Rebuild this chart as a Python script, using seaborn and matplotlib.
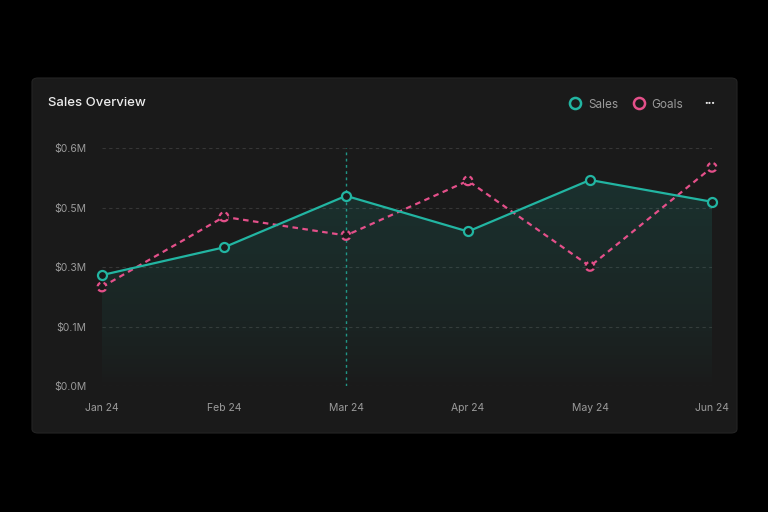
import numpy as np
import pandas as pd
import matplotlib
matplotlib.use("Agg")
import matplotlib.pyplot as plt
import seaborn as sns
from matplotlib.patches import FancyBboxPatch
from matplotlib.lines import Line2D

months = ["Jan 24", "Feb 24", "Mar 24", "Apr 24", "May 24", "Jun 24"]
sales = [0.280, 0.350, 0.480, 0.390, 0.520, 0.465]   # $M
goals = [0.250, 0.427, 0.380, 0.518, 0.302, 0.552]   # $M
y_ticks = [0.0, 0.15, 0.3, 0.45, 0.6]
hover_month = "Mar 24"

TEAL = "#22b5a2"
PINK = "#e4508a"
CARD = "#1a1a1a"

sns.set_theme(style="dark")
plt.rcParams["font.family"] = ["Inter", "DejaVu Sans"]

df = pd.DataFrame({"month": months, "x": range(len(months)), "Sales": sales, "Goals": goals})

fig = plt.figure(figsize=(7.68, 5.12), dpi=100)
fig.patch.set_facecolor("black")

# card background
card = FancyBboxPatch((32 / 768, 1 - 433 / 512), 705 / 768, 355 / 512,
                      boxstyle="round,pad=0,rounding_size=0.008",
                      transform=fig.transFigure, facecolor=CARD,
                      edgecolor="#242424", linewidth=0.8, zorder=-5)
fig.patches.append(card)

ax = fig.add_axes([102 / 768, 1 - 386 / 512, 610 / 768, 237.7 / 512])
ax.set_zorder(1)
ax.set_facecolor("none")
for s in ax.spines.values():
    s.set_visible(False)

# gradient fill under sales
fill = ax.fill_between(df["x"], df["Sales"], 0, color="none")
grad = np.linspace(0, 1, 256).reshape(-1, 1) ** 0.7
cmap = matplotlib.colors.LinearSegmentedColormap.from_list(
    "g", [(0.13, 0.71, 0.64, 0.0), (0.13, 0.71, 0.64, 0.15)])
img = ax.imshow(grad, aspect="auto", cmap=cmap, origin="lower",
                extent=[0, len(months) - 1, 0, max(sales)], zorder=1)
img.set_clip_path(fill.get_paths()[0], transform=ax.transData)

# grid
for t in y_ticks:
    ax.axhline(t, color="#363636", lw=0.8, ls=(0, (3, 3)), zorder=0.5)

# hover line
hx = months.index(hover_month)
ax.axvline(hx, color=TEAL, lw=1, ls=(0, (2, 2.5)), alpha=0.8, zorder=2)

sns.lineplot(data=df, x="x", y="Goals", ax=ax, color=PINK, lw=1.6,
             linestyle=(0, (2.5, 2)), zorder=3)
ax.scatter(df["x"], df["Goals"], s=40, facecolor=CARD, edgecolor=PINK,
           linewidth=1.6, linestyle=(0, (2, 1.5)), zorder=4, clip_on=False)

sns.lineplot(data=df, x="x", y="Sales", ax=ax, color=TEAL, lw=1.6, zorder=5,
             marker="o", markersize=6.5, markerfacecolor=CARD,
             markeredgecolor=TEAL, markeredgewidth=1.6, clip_on=False)

ax.set_xlim(0, len(months) - 1)
ax.set_ylim(0, 0.6)
ax.set_xticks(df["x"], months)
ax.set_yticks(y_ticks, [f"${v:.1f}M" for v in y_ticks])
ax.tick_params(axis="both", length=0, colors="#9a9a9a", labelsize=7.5)
ax.tick_params(axis="y", pad=11)
ax.tick_params(axis="x", pad=12)
ax.set_xlabel("")
ax.set_ylabel("")
ax.grid(False)

fig.text(48 / 768, 1 - 103 / 512, "Sales Overview", color="#ececec",
         fontsize=9.5, fontweight="medium", va="center", ha="left")

# legend
handles = [Line2D([], [], ls="none", marker="o", markersize=8,
                  markerfacecolor=CARD, markeredgecolor=c, markeredgewidth=1.8)
           for c in (TEAL, PINK)]
fig.legend(handles, ["Sales", "Goals"], loc="center right",
           bbox_to_anchor=(694 / 768, 1 - 104.5 / 512), ncol=2, frameon=False,
           fontsize=8.5, labelcolor="#9a9a9a", handletextpad=0.55,
           columnspacing=1.3, handlelength=1.0)
fig.text(710 / 768, 1 - 103 / 512, "•••", color="#e8e8e8", fontsize=5.5,
         ha="center", va="center", fontweight="bold")

fig.savefig("out.png", dpi=100, facecolor=fig.get_facecolor())
